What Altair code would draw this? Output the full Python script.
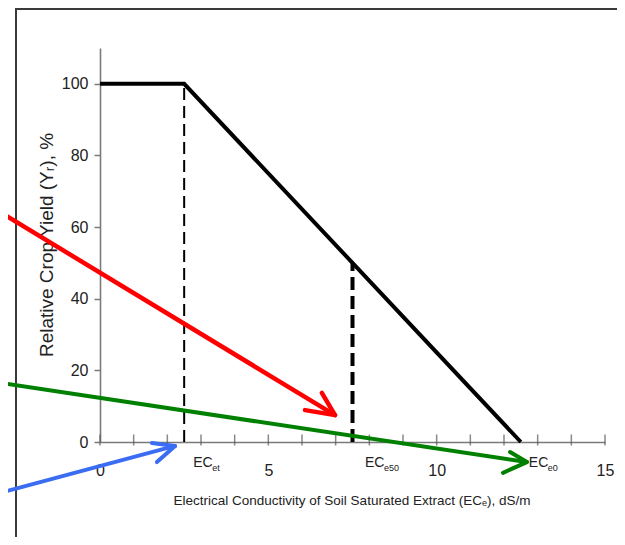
import altair as alt
import pandas as pd

FONT = "Liberation Sans, Arial, sans-serif"

# Response curve (salinity threshold model)
curve_x = [0, 2.5, 12.5]
curve_y = [100, 100, 0]

# Characteristic EC values
ec_names = ["EC", "EC", "EC"]
ec_subs = ["et", "e50", "e0"]
ec_values = [2.5, 7.5, 12.5]
ec_yield = [100, 50, 0]

x_ticks_minor = list(range(0, 16))
x_tick_labels = [0, 5, 10, 15]
y_tick_labels = [0, 20, 40, 60, 80, 100]

# Annotation arrows (data units): start, tip, arm1, arm2
arrow_names = ["red", "green", "blue"]
arrow_start_x = [-2.97, -2.97, -2.97]
arrow_start_y = [64.2, 16.5, -14.2]
arrow_tip_x = [6.98, 12.68, 2.23]
arrow_tip_y = [7.5, -5.6, -1.1]
arrow_arm1_x = [6.59, 12.18, 1.54]
arrow_arm1_y = [13.7, -2.8, -0.3]
arrow_arm2_x = [6.09, 11.97, 1.69]
arrow_arm2_y = [8.9, -8.6, -5.6]
arrow_colors = ["#ff0000", "#008000", "#3a6cf4"]

xs = alt.Scale(domain=[0, 15], nice=False)
ys = alt.Scale(domain=[0, 110], nice=False)

curve_df = pd.DataFrame({"x": curve_x, "y": curve_y, "o": [0, 1, 2]})
curve = alt.Chart(curve_df).mark_line(color="black", strokeWidth=4, strokeJoin="miter").encode(
    x=alt.X("x:Q", scale=xs, axis=alt.Axis(
        values=x_tick_labels, title=None, grid=False, ticks=False, labelFlush=False,
        domainColor="#7a7a7a", domainWidth=1.6, labelPadding=20,
        labelFont=FONT, labelFontSize=16, labelColor="#222")),
    y=alt.Y("y:Q", scale=ys, axis=alt.Axis(
        values=y_tick_labels, title=None, grid=False, tickSize=6,
        tickColor="#7a7a7a", tickWidth=1.5, domainColor="#7a7a7a", domainWidth=1.6,
        labelPadding=6, labelFont=FONT, labelFontSize=16, labelColor="#222")),
    order="o:Q",
)

ec_df = pd.DataFrame({"x": ec_values, "y": ec_yield, "name": ec_names, "sub": ec_subs,
                      "y0": [0, 0, 0]})
dash_thin = alt.Chart(ec_df.iloc[[0]]).mark_rule(color="black", strokeWidth=2, strokeDash=[12, 6]).encode(
    x=alt.X("x:Q", scale=xs), y=alt.Y("y0:Q", scale=ys), y2="y:Q")
dash_thick = alt.Chart(ec_df.iloc[[1]]).mark_rule(color="black", strokeWidth=4, strokeDash=[13, 6]).encode(
    x=alt.X("x:Q", scale=xs), y=alt.Y("y0:Q", scale=ys), y2="y:Q")

tick_df = pd.DataFrame({"x": x_ticks_minor, "y": [0] * len(x_ticks_minor)})
ticks = alt.Chart(tick_df).mark_tick(orient="vertical", size=11, thickness=1.5, color="#555", yOffset=-2).encode(
    x=alt.X("x:Q", scale=xs), y=alt.Y("y:Q", scale=ys))

ec_dx = [9, 12.5, 8]
ec_main = []
ec_subt = []
for i in range(len(ec_values)):
    row = ec_df.iloc[[i]]
    ec_main.append(alt.Chart(row).mark_text(align="left", baseline="middle", font=FONT, fontSize=14,
                                            color="#222", dx=ec_dx[i], dy=21).encode(
        x=alt.X("x:Q", scale=xs), y=alt.Y("y0:Q", scale=ys), text="name:N"))
    ec_subt.append(alt.Chart(row).mark_text(align="left", baseline="middle", font=FONT, fontSize=9,
                                            color="#222", dx=ec_dx[i] + 19, dy=26).encode(
        x=alt.X("x:Q", scale=xs), y=alt.Y("y0:Q", scale=ys), text="sub:N"))

ytitle = alt.Chart(pd.DataFrame({"t": ["Relative Crop Yield (Yᵣ), %"]})).mark_text(
    angle=270, align="center", baseline="middle", font=FONT, fontSize=19, color="#222").encode(
    x=alt.value(-53), y=alt.value(197), text="t:N")
xtitle = alt.Chart(pd.DataFrame({"t": ["Electrical Conductivity of Soil Saturated Extract (ECₑ), dS/m"]})).mark_text(
    align="center", baseline="middle", font=FONT, fontSize=13.5, color="#222").encode(
    x=alt.value(252), y=alt.value(453), text="t:N")

rows = []
for i, n in enumerate(arrow_names):
    rows.append({"arrow": n, "part": n + "_shaft", "o": 0, "x": arrow_start_x[i], "y": arrow_start_y[i]})
    rows.append({"arrow": n, "part": n + "_shaft", "o": 1, "x": arrow_tip_x[i], "y": arrow_tip_y[i]})
    rows.append({"arrow": n, "part": n + "_head", "o": 0, "x": arrow_arm1_x[i], "y": arrow_arm1_y[i]})
    rows.append({"arrow": n, "part": n + "_head", "o": 1, "x": arrow_tip_x[i], "y": arrow_tip_y[i]})
    rows.append({"arrow": n, "part": n + "_head", "o": 2, "x": arrow_arm2_x[i], "y": arrow_arm2_y[i]})
arrow_df = pd.DataFrame(rows)
arrow_width = {"red": 4.5, "green": 4, "blue": 4}
arrows = []
for i, n in enumerate(arrow_names):
    arrows.append(alt.Chart(arrow_df[arrow_df.arrow == n]).mark_line(
        color=arrow_colors[i], strokeWidth=arrow_width[n], strokeCap="round", strokeJoin="round").encode(
        x=alt.X("x:Q", scale=xs), y=alt.Y("y:Q", scale=ys), detail="part:N", order="o:Q"))

frame_left = alt.Chart(pd.DataFrame({"a": [0]})).mark_rule(color="#3a3a3a", strokeWidth=2).encode(
    x=alt.value(-84), y=alt.value(-40), y2=alt.value(500))
frame_top = alt.Chart(pd.DataFrame({"a": [0]})).mark_rule(color="#3a3a3a", strokeWidth=2).encode(
    x=alt.value(-85), x2=alt.value(520), y=alt.value(-39))

chart = alt.layer(
    frame_left, frame_top, ticks, dash_thin, dash_thick, curve, *ec_main, *ec_subt,
    ytitle, xtitle, *arrows
).properties(
    width=505, height=394,
    autosize=alt.AutoSizeParams(type="none"),
    padding={"left": 92, "top": 40, "right": 12, "bottom": 95},
    background="white",
).configure_view(stroke=None)

chart.save("out.html", embed_options={"renderer": "svg", "actions": False})
